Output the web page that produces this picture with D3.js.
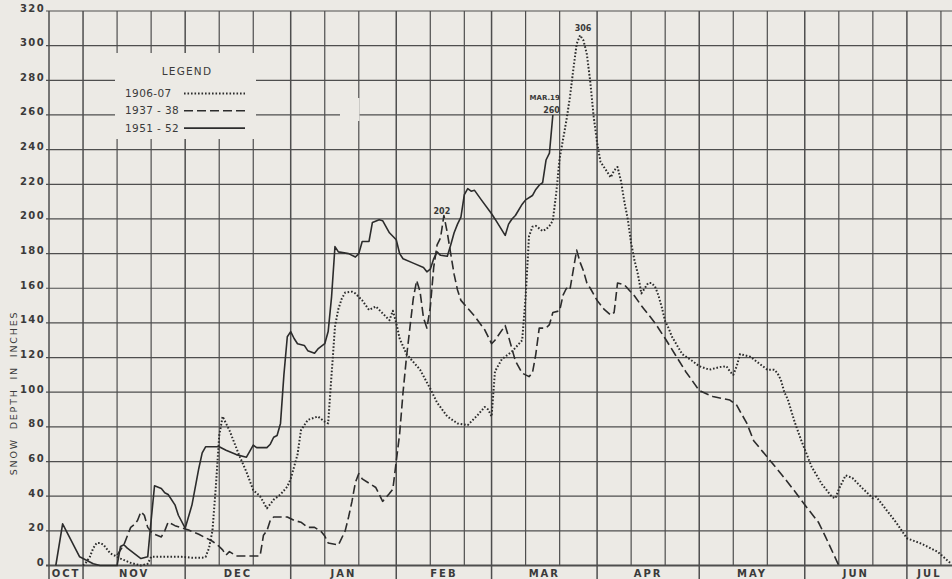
<!DOCTYPE html>
<html>
<head>
<meta charset="utf-8">
<script src="https://cdn.jsdelivr.net/npm/d3@7"></script>
<style>
  html, body { margin: 0; padding: 0; background: #eceae5; }
  svg { display: block; }
  text { font-family: "DejaVu Sans", Verdana, sans-serif; fill: #3a3a3a; }
</style>
</head>
<body>
<svg id="chart" width="952" height="579"></svg>
<script>
// ---------------- DATA ----------------
const monthLabels = ["OCT","NOV","DEC","JAN","FEB","MAR","APR","MAY","JUN","JUL"];
const yTickValues = [0,20,40,60,80,100,120,140,160,180,200,220,240,260,280,300,320];
const seriesNames = ["1906 - 07", "1937 - 38", "1951 - 52"];
const legendLabels = ["1906-07", "1937 - 38", "1951 - 52"];

// dates as MM-DD within the Oct–Jul season, values in inches
const depth1906 = [
  ["11-01",0],["11-02",2],["11-03",5],["11-04",10],["11-05",13],["11-06",13],["11-07",12],["11-09",7],
  ["11-12",4],["11-15",1.5],["11-18",0],["11-20",1],["11-21",5],["11-25",5],["11-30",5],["12-03",4.5],
  ["12-06",4.5],["12-07",5],["12-08",10],["12-09",20],["12-10",45],["12-11",75],["12-12",86],["12-14",78],
  ["12-17",63],["12-19",54],["12-21",43.5],["12-23",40],["12-25",33],["12-27",38],["12-29",41],["12-31",45.5],
  ["01-01",50],["01-03",64],["01-04",78],["01-06",84],["01-09",86],["01-11",83],["01-12",82],["01-13",110],
  ["01-14",138],["01-15",148],["01-16",154],["01-17",157.5],["01-19",158],["01-20",157],["01-22",153],
  ["01-24",147.5],["01-26",149.5],["01-28",145.5],["01-30",141.5],["01-31",147],["02-01",140],["02-02",131],
  ["02-04",122],["02-08",113],["02-11",102],["02-13",94],["02-16",86],["02-19",82],["02-22",81],["02-25",87],
  ["02-27",91.5],["02-28",90],["03-01",86],["03-02",112],["03-04",119],["03-07",123.5],["03-10",130],
  ["03-11",155],["03-12",190],["03-13",195.5],["03-14",196],["03-16",193],["03-17",194],["03-18",196],
  ["03-19",199],["03-20",215],["03-21",235],["03-22",246],["03-23",257],["03-24",270],["03-25",286],
  ["03-26",301],["03-27",306],["03-28",303],["03-29",295],["03-30",279],["03-31",259],["04-01",244],
  ["04-02",233],["04-04",227],["04-05",224],["04-06",228],["04-07",230],["04-08",222],["04-09",210],
  ["04-10",200],["04-11",186],["04-12",176],["04-13",168],["04-14",157],["04-15",160],["04-16",163],
  ["04-17",163],["04-18",161],["04-19",156],["04-20",149],["04-21",141],["04-22",137],["04-23",132],
  ["04-26",122],["04-29",118],["05-01",115],["05-04",113],["05-07",114.5],["05-09",115],["05-10",112],
  ["05-11",110],["05-12",115],["05-13",122],["05-16",120.5],["05-19",116],["05-21",113],["05-23",113],
  ["05-24",111],["05-25",107],["05-26",100],["05-27",96],["05-29",83],["05-31",72],["06-01",67],["06-03",57],
  ["06-06",47],["06-09",39.5],["06-10",38.8],["06-11",44],["06-13",52],["06-15",50.5],["06-18",44.5],
  ["06-21",38.8],["06-22",39.7],["06-25",32],["06-28",24.4],["07-01",15.7],["07-05",12.8],["07-10",8],["07-14",1]
];

const depth1937 = [
  ["11-11",6],["11-13",12],["11-15",22],["11-16",23.5],["11-17",26],["11-18",31],["11-19",29],["11-20",22],
  ["11-21",19.5],["11-22",18],["11-24",16.5],["11-25",20],["11-26",25],["11-28",23],["12-02",20.5],["12-05",18],
  ["12-09",14],["12-11",11],["12-12",9],["12-13",6],["12-14",8],["12-16",5.5],["12-23",5.5],["12-24",17.5],
  ["12-25",20],["12-26",26],["12-27",28],["12-31",28],["01-02",26],["01-04",25],["01-06",22],["01-08",22],
  ["01-10",19.5],["01-11",17],["01-12",13],["01-15",11.8],["01-17",20],["01-18",28],["01-19",37],["01-20",48],
  ["01-21",53],["01-22",50],["01-24",47.5],["01-26",45],["01-28",37],["01-30",41.5],["01-31",44],["02-01",60],
  ["02-02",76],["02-03",100],["02-04",120],["02-05",137],["02-06",154],["02-07",164.5],["02-08",158],
  ["02-09",143],["02-10",137],["02-11",149],["02-12",172],["02-13",185],["02-14",189],["02-15",202],
  ["02-16",192],["02-17",180],["02-18",168],["02-19",159],["02-20",153],["02-24",144],["02-27",136],
  ["03-01",128],["03-02",130],["03-05",138.5],["03-06",132],["03-08",118],["03-10",111],["03-12",109],
  ["03-13",111],["03-14",122],["03-15",137],["03-17",137],["03-18",139],["03-19",146],["03-21",147],
  ["03-22",156],["03-23",160],["03-24",159],["03-26",182],["03-27",175],["03-28",170],["03-29",163],
  ["03-30",160],["04-01",153],["04-03",148],["04-05",144.5],["04-06",146],["04-07",163],["04-09",162],
  ["04-12",155.5],["04-14",150],["04-15",147.5],["04-18",140],["04-21",131],["04-24",121.5],["04-27",112],
  ["05-01",101],["05-05",97.5],["05-10",95.5],["05-12",92.5],["05-15",82],["05-17",72],["05-21",62.5],
  ["05-25",53],["05-29",43],["06-01",35],["06-05",25],["06-07",17],["06-11",0]
];

const depth1951 = [
  ["10-24",0],["10-26",24],["10-31",5],["11-02",3],["11-04",1],["11-06",0],["11-11",0],["11-12",11],
  ["11-13",12],["11-14",10],["11-16",7],["11-18",4],["11-20",5],["11-21",26],["11-22",46],["11-24",44.5],
  ["11-25",42],["11-26",41],["11-28",35],["11-29",29],["12-01",21.5],["12-03",35],["12-05",56],["12-06",65],
  ["12-07",68.5],["12-11",68.5],["12-13",66.5],["12-16",64],["12-19",62.5],["12-20",66],["12-21",69.5],
  ["12-22",68],["12-25",68],["12-26",70],["12-27",74],["12-28",75],["12-29",82],["12-30",110],["12-31",132],
  ["01-01",135],["01-02",131],["01-03",128],["01-05",127],["01-06",124],["01-08",122.5],["01-09",125],
  ["01-11",128],["01-12",135],["01-13",155],["01-14",184],["01-15",181],["01-18",180],["01-20",178],
  ["01-21",180],["01-22",187],["01-24",187],["01-25",198],["01-27",199.5],["01-28",199],["01-30",192],
  ["01-31",190],["02-01",188],["02-02",180],["02-03",177],["02-06",174.5],["02-09",172],["02-10",169.5],
  ["02-11",171],["02-12",177],["02-13",181],["02-14",179],["02-16",178.5],["02-17",185],["02-18",192],
  ["02-19",197],["02-20",201],["02-21",214],["02-22",217.5],["02-23",216],["02-24",216.5],["02-26",211],
  ["03-01",203],["03-02",200],["03-05",190.5],["03-06",197],["03-07",200],["03-08",202],["03-10",208.5],
  ["03-11",211],["03-13",213.5],["03-14",217],["03-15",219.5],["03-16",221],["03-17",234],["03-18",238],
  ["03-19",260]
];

const peakNotes = [
  { label: "306", date: "03-27", value: 306 },
  { label: "202", date: "02-15", value: 202 },
  { label: "260", date: "03-19", value: 260, extra: "MAR.19" }
];

// ---------------- SETUP ----------------
const W = 952, H = 579;
const parseMD = s => {
  const [m, d] = s.split("-").map(Number);
  return new Date(Date.UTC(m >= 10 ? 1906 : 1907, m - 1, d));
};
const toPoints = arr => arr.map(([d, v]) => ({ date: parseMD(d), value: v }));

const startDate = new Date(Date.UTC(1906, 9, 22));
const endDate = new Date(Date.UTC(1907, 6, 14, 6));

const x = d3.scaleUtc().domain([startDate, endDate]).range([49, 952]);
const y = d3.scaleLinear().domain([0, 320]).range([565.5, 11]);

const svg = d3.select("#chart");
svg.append("rect").attr("width", W).attr("height", H).attr("fill", "#eceae5");

const gridColor = "#4e4e4e";
const g = svg.append("g");

// horizontal grid lines
g.selectAll("line.h").data(yTickValues).join("line")
  .attr("x1", 46).attr("x2", W)
  .attr("y1", d => y(d)).attr("y2", d => y(d))
  .attr("stroke", gridColor)
  .attr("stroke-width", d => d === 0 ? 2 : 1.2);

// vertical grid lines: 1st, 11th, 21st of each month
const gridDays = d3.utcDay.range(d3.utcDay.offset(startDate, 1), endDate)
  .filter(d => [1, 11, 21].includes(d.getUTCDate()));
const monthStarts = d3.utcMonth.range(d3.utcDay.offset(startDate, 1), endDate);

g.selectAll("line.v").data(gridDays).join("line")
  .attr("x1", d => x(d)).attr("x2", d => x(d))
  .attr("y1", y(320))
  .attr("y2", d => d.getUTCDate() === 1 ? H : y(0))
  .attr("stroke", gridColor)
  .attr("stroke-width", d => d.getUTCDate() === 1 ? 1.5 : 1.2);

// left axis line
g.append("line")
  .attr("x1", x(startDate)).attr("x2", x(startDate))
  .attr("y1", y(320)).attr("y2", H)
  .attr("stroke", gridColor).attr("stroke-width", 1.5);

// erased patches on the paper (legend area and a small erasure)
svg.append("rect").attr("x", 115).attr("y", 53).attr("width", 141).attr("height", 86).attr("fill", "#eceae5");
svg.append("rect").attr("x", 340).attr("y", 98).attr("width", 19.5).attr("height", 23).attr("fill", "#eceae5");

// y tick labels
svg.selectAll("text.ytick").data(yTickValues).join("text")
  .attr("x", 45).attr("y", d => y(d) + 0.5)
  .attr("text-anchor", "end")
  .attr("font-size", 10).attr("font-weight", 600)
  .attr("letter-spacing", 1.4)
  .text(d => d);

// y-axis title
svg.append("text")
  .attr("transform", "translate(17,393) rotate(-90)")
  .attr("text-anchor", "middle")
  .attr("font-size", 9.5)
  .attr("letter-spacing", 1.8)
  .attr("word-spacing", 4)
  .text("SNOW DEPTH IN INCHES");

// month labels
const monthBounds = [startDate, ...monthStarts, endDate];
svg.selectAll("text.month").data(monthLabels).join("text")
  .attr("x", (d, i) => (x(monthBounds[i]) + x(monthBounds[i + 1])) / 2)
  .attr("y", 577)
  .attr("text-anchor", "middle")
  .attr("font-size", 10).attr("font-weight", 600)
  .attr("letter-spacing", 2)
  .text(d => d);

// ---------------- SERIES ----------------
const line = d3.line().x(d => x(d.date)).y(d => y(d.value));
const styles = [
  { data: toPoints(depth1906), dash: "1.6 1.9", width: 2.0 },
  { data: toPoints(depth1937), dash: "9 4", width: 1.6 },
  { data: toPoints(depth1951), dash: null, width: 1.6 }
];
svg.selectAll("path.series").data(styles).join("path")
  .attr("d", d => line(d.data))
  .attr("fill", "none")
  .attr("stroke", "#2c2c2c")
  .attr("stroke-width", d => d.width)
  .attr("stroke-linejoin", "round")
  .attr("stroke-dasharray", d => d.dash);

// ---------------- LEGEND ----------------
const lg = svg.append("g");
lg.append("text").attr("x", 187).attr("y", 75).attr("text-anchor", "middle")
  .attr("font-size", 10.5).attr("letter-spacing", 1.2).text("LEGEND");
legendLabels.forEach((lab, i) => {
  const yy = 97 + i * 17.3;
  lg.append("text").attr("x", 125).attr("y", yy)
    .attr("font-size", 10.5).attr("letter-spacing", 0.4).text(lab);
  lg.append("line").attr("x1", 184).attr("x2", 245)
    .attr("y1", yy - 3.5).attr("y2", yy - 3.5)
    .attr("stroke", "#2c2c2c")
    .attr("stroke-width", styles[i].width)
    .attr("stroke-dasharray", styles[i].dash);
});

// ---------------- ANNOTATIONS ----------------
const n306 = peakNotes[0], n202 = peakNotes[1], n260 = peakNotes[2];
svg.append("text").attr("x", x(parseMD(n306.date)) + 3).attr("y", y(n306.value) - 4)
  .attr("text-anchor", "middle").attr("font-size", 8).attr("font-weight", "bold").text(n306.label);
svg.append("text").attr("x", x(parseMD(n202.date)) - 2).attr("y", y(n202.value) - 1.5)
  .attr("text-anchor", "middle").attr("font-size", 8).attr("font-weight", "bold").text(n202.label);
svg.append("text").attr("x", x(parseMD(n260.date)) + 7).attr("y", y(n260.value) - 15)
  .attr("text-anchor", "end").attr("font-size", 7).attr("font-weight", "bold").text(n260.extra);
svg.append("text").attr("x", x(parseMD(n260.date)) + 7).attr("y", y(n260.value) - 2)
  .attr("text-anchor", "end").attr("font-size", 8).attr("font-weight", "bold").text(n260.label);
</script>
</body>
</html>
